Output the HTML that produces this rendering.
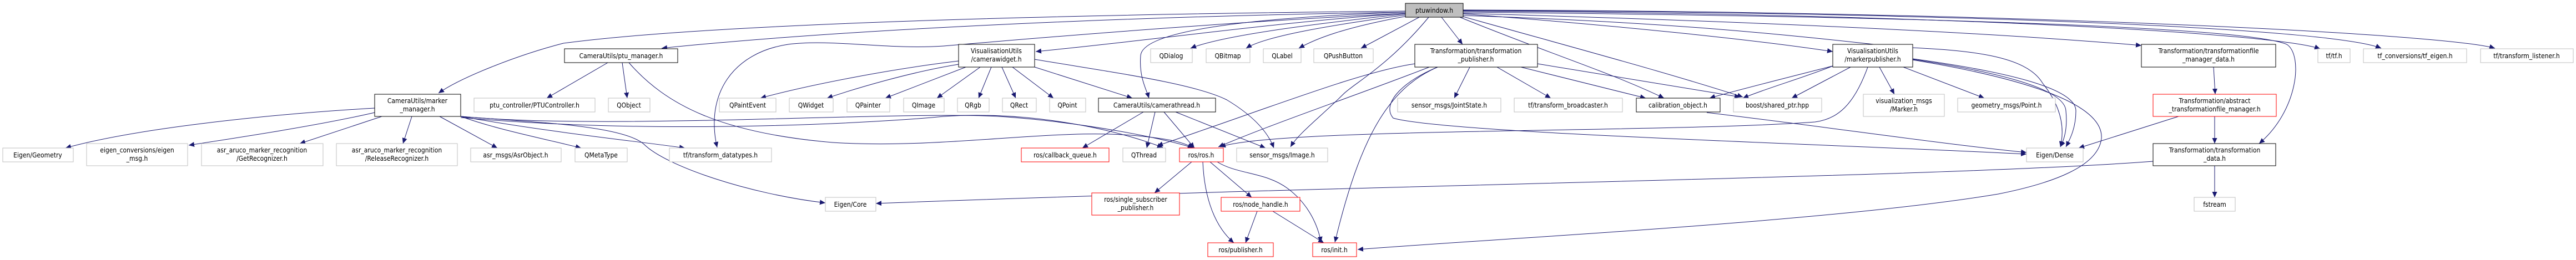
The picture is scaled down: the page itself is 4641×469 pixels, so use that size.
<!DOCTYPE html>
<html><head><meta charset="utf-8"><style>
html,body{margin:0;padding:0;background:#fff;width:4641px;height:469px;overflow:hidden}
svg text{font-family:"DejaVu Sans Condensed","DejaVu Sans","Liberation Sans",sans-serif;font-stretch:condensed;font-size:12px;fill:#000}
</style></head><body>
<svg width="4641" height="469" viewBox="0 0 4641 469" xmlns="http://www.w3.org/2000/svg">
<defs><marker id="a" markerUnits="userSpaceOnUse" markerWidth="11" markerHeight="9" refX="10" refY="4.5" orient="auto"><path d="M0,0 L10,4.5 L0,9 z" fill="#191970"/></marker></defs>
<g fill="none" stroke="#191970" stroke-width="1" marker-end="url(#a)">
<path d="M2532,20 C2000,25 1300,40 1015,78 C930,100 830,140 790,168"/>
<path d="M2532,22 C2000,30 1500,55 1192,87"/>
<path d="M2532,24 C2300,40 2100,70 1866,93"/>
<path d="M2532,22 C2300,30 2060,50 2055,100 C2052,140 2065,160 2070,177"/>
<path d="M2532,25 C2350,45 2200,65 2145,87"/>
<path d="M2532,27 C2400,45 2280,65 2245,87"/>
<path d="M2535,29 C2420,50 2370,70 2340,87"/>
<path d="M2557,31 L2452,87"/>
<path d="M2597,31 L2635,80"/>
<path d="M2532,24 C2200,40 1850,70 1700,83 C1600,90 1500,70 1420,80 C1320,95 1270,170 1292,266"/>
<path d="M2574,31 C2500,120 2440,150 2420,170 C2380,210 2340,240 2325,265"/>
<path d="M2636,25 C2900,45 3150,70 3302,93"/>
<path d="M2630,31 C2800,100 2900,130 2998,177"/>
<path d="M2636,30 C2850,90 3000,130 3140,175"/>
<path d="M2636,28 C3000,40 3200,60 3420,85 C3550,90 3650,100 3680,150 C3720,200 3718,240 3712,265"/>
<path d="M2636,24 C3200,40 3600,60 3858,82"/>
<path d="M2636,22 C3500,30 4050,50 4120,80 C4150,100 4140,200 4070,259"/>
<path d="M2636,20 C3500,25 4100,60 4180,88"/>
<path d="M2636,19 C3500,22 4200,50 4290,87"/>
<path d="M2636,18 C3600,20 4400,60 4495,87"/>
<path d="M1095,113 L985,177"/>
<path d="M1121,113 L1130,177"/>
<path d="M1133,113 C1200,190 1300,240 1500,257 C1700,270 1900,230 2050,245 C2100,250 2130,255 2150,267"/>
<path d="M675,195 C500,205 250,230 118,267"/>
<path d="M675,203 C580,225 450,245 340,262"/>
<path d="M688,210 L540,259"/>
<path d="M742,210 L726,259"/>
<path d="M792,210 L896,267"/>
<path d="M830,210 C900,235 980,250 1047,267"/>
<path d="M830,210 C1000,240 1150,255 1234,267"/>
<path d="M830,210 C950,220 1120,225 1160,260 C1200,300 1350,350 1487,366"/>
<path d="M830,212 C1200,245 1600,220 1700,210 C1850,200 2000,230 2095,266"/>
<path d="M830,210 C1100,235 1600,200 1800,210 C1950,220 2100,250 2150,267"/>
<path d="M1727,110 C1600,125 1450,155 1370,177"/>
<path d="M1727,116 C1640,130 1540,160 1490,177"/>
<path d="M1740,121 L1595,177"/>
<path d="M1766,121 L1688,177"/>
<path d="M1786,121 L1763,177"/>
<path d="M1805,121 L1830,177"/>
<path d="M1824,121 L1898,177"/>
<path d="M1864,121 L2040,177"/>
<path d="M1864,107 C2000,130 2150,150 2210,180 C2260,210 2285,240 2295,267"/>
<path d="M2060,202 L1950,267"/>
<path d="M2081,202 L2066,267"/>
<path d="M2097,202 L2152,267"/>
<path d="M2118,202 L2280,267"/>
<path d="M2549,115 C2450,130 2300,190 2085,263"/>
<path d="M2575,121 C2450,170 2300,220 2195,265"/>
<path d="M2590,121 C2500,160 2450,250 2405,437"/>
<path d="M2590,121 C2520,150 2490,190 2510,213 C2600,240 3300,260 3651,278"/>
<path d="M2648,121 L2620,177"/>
<path d="M2697,121 L2794,177"/>
<path d="M2740,121 L2965,177"/>
<path d="M2770,115 L3135,175"/>
<path d="M3302,119 C3250,140 3180,160 3140,177"/>
<path d="M3302,119 C3200,145 3120,165 3080,177"/>
<path d="M3334,121 L3228,177"/>
<path d="M3365,121 C3340,190 3310,215 3270,220 C3000,240 2300,230 2198,265"/>
<path d="M3386,121 L3413,170"/>
<path d="M3429,121 L3575,177"/>
<path d="M3446,107 C3600,130 3720,160 3722,200 C3725,230 3720,250 3712,265"/>
<path d="M3446,106 C3620,130 3740,160 3740,200 C3740,230 3730,250 3722,265"/>
<path d="M3446,108 C3700,150 3790,200 3786,250 C3780,300 3700,330 3600,350 C3300,400 2700,430 2446,450"/>
<path d="M3075,203 C3300,230 3500,260 3651,275"/>
<path d="M3988,121 L3991,170"/>
<path d="M3990,210 L3990,259"/>
<path d="M3925,210 L3745,267"/>
<path d="M3990,299 L3990,356"/>
<path d="M3879,291 C3500,320 2500,332 1578,367"/>
<path d="M2147,292 L2080,348"/>
<path d="M2180,292 L2255,356"/>
<path d="M2167,292 C2170,360 2190,410 2223,438"/>
<path d="M2193,292 C2230,315 2280,310 2320,340 C2360,370 2375,410 2380,437"/>
<path d="M2265,381 L2244,438"/>
<path d="M2293,381 L2385,438"/>
</g>
<g stroke-width="1">
<g fill="#fff" stroke="#bfbfbf">
<rect x="5" y="267" width="127" height="25"/><rect x="156" y="259" width="182" height="40"/><rect x="363" y="259" width="219" height="40"/><rect x="606" y="259" width="218" height="40"/>
<rect x="854" y="177" width="218" height="25"/><rect x="1096" y="177" width="75" height="25"/>
<rect x="1296" y="177" width="102" height="25"/><rect x="1422" y="177" width="79" height="25"/><rect x="1526" y="177" width="77" height="25"/>
<rect x="848" y="267" width="163" height="25"/><rect x="1036" y="267" width="94" height="25"/><rect x="1206" y="267" width="184" height="25"/><rect x="1487" y="356" width="91" height="25"/>
<rect x="1628" y="177" width="73" height="25"/><rect x="1725" y="177" width="57" height="25"/><rect x="1806" y="177" width="61" height="25"/><rect x="1891" y="177" width="65" height="25"/>
<rect x="2073" y="88" width="75" height="25"/><rect x="2173" y="88" width="79" height="25"/><rect x="2276" y="88" width="68" height="25"/><rect x="2367" y="88" width="107" height="25"/>
<rect x="2023" y="267" width="77" height="25"/><rect x="2228" y="267" width="164" height="25"/>
<rect x="2518" y="177" width="186" height="25"/><rect x="2728" y="177" width="195" height="25"/><rect x="3123" y="177" width="159" height="25"/>
<rect x="3357" y="170" width="146" height="40"/><rect x="3527" y="177" width="176" height="25"/><rect x="3651" y="267" width="102" height="25"/>
<rect x="3953" y="356" width="74" height="25"/><rect x="4176" y="88" width="58" height="25"/><rect x="4258" y="88" width="186" height="25"/><rect x="4469" y="88" width="167" height="25"/>
</g>
<g fill="#fff" stroke="#000">
<rect x="675" y="170" width="155" height="40"/><rect x="1017" y="88" width="204" height="25"/><rect x="1727" y="80" width="137" height="41"/><rect x="1979" y="177" width="211" height="25"/>
<rect x="2549" y="80" width="221" height="41"/><rect x="2948" y="177" width="151" height="25"/><rect x="3302" y="80" width="144" height="41"/>
<rect x="3858" y="80" width="242" height="41"/><rect x="3879" y="259" width="221" height="40"/>
</g>
<g fill="#fff" stroke="#ff0000">
<rect x="1840" y="267" width="158" height="25"/><rect x="2125" y="267" width="79" height="25"/><rect x="1967" y="348" width="158" height="40"/><rect x="2200" y="356" width="142" height="25"/><rect x="2176" y="438" width="118" height="25"/><rect x="2365" y="438" width="79" height="25"/><rect x="3879" y="170" width="222" height="40"/>
</g>
<rect x="2532" y="6" width="104" height="25" fill="#bfbfbf" stroke="#000"/>
</g>
<g text-anchor="middle">
<text x="2584" y="23">ptuwindow.h</text>
<text x="68" y="284">Eigen/Geometry</text>
<text x="247" y="275">eigen_conversions/eigen</text><text x="247" y="290">_msg.h</text>
<text x="472" y="275">asr_aruco_marker_recognition</text><text x="472" y="290">/GetRecognizer.h</text>
<text x="715" y="275">asr_aruco_marker_recognition</text><text x="715" y="290">/ReleaseRecognizer.h</text>
<text x="752" y="186">CameraUtils/marker</text><text x="752" y="201">_manager.h</text>
<text x="1119" y="105">CameraUtils/ptu_manager.h</text>
<text x="963" y="194">ptu_controller/PTUController.h</text>
<text x="1133" y="194">QObject</text>
<text x="1347" y="194">QPaintEvent</text><text x="1461" y="194">QWidget</text><text x="1564" y="194">QPainter</text>
<text x="929" y="284">asr_msgs/AsrObject.h</text><text x="1083" y="284">QMetaType</text><text x="1298" y="284">tf/transform_datatypes.h</text>
<text x="1532" y="373">Eigen/Core</text>
<text x="1795" y="96">VisualisationUtils</text><text x="1795" y="111">/camerawidget.h</text>
<text x="1664" y="194">QImage</text><text x="1753" y="194">QRgb</text><text x="1836" y="194">QRect</text><text x="1923" y="194">QPoint</text>
<text x="2084" y="194">CameraUtils/camerathread.h</text>
<text x="2110" y="105">QDialog</text><text x="2212" y="105">QBitmap</text><text x="2310" y="105">QLabel</text><text x="2420" y="105">QPushButton</text>
<text x="1919" y="284">ros/callback_queue.h</text><text x="2061" y="284">QThread</text><text x="2164" y="284">ros/ros.h</text><text x="2310" y="284">sensor_msgs/Image.h</text>
<text x="2046" y="364">ros/single_subscriber</text><text x="2046" y="379">_publisher.h</text>
<text x="2271" y="373">ros/node_handle.h</text><text x="2235" y="455">ros/publisher.h</text><text x="2404" y="455">ros/init.h</text>
<text x="2659" y="96">Transformation/transformation</text><text x="2659" y="111">_publisher.h</text>
<text x="2611" y="194">sensor_msgs/JointState.h</text><text x="2825" y="194">tf/transform_broadcaster.h</text>
<text x="3023" y="194">calibration_object.h</text><text x="3202" y="194">boost/shared_ptr.hpp</text>
<text x="3374" y="96">VisualisationUtils</text><text x="3374" y="111">/markerpublisher.h</text>
<text x="3430" y="186">visualization_msgs</text><text x="3430" y="201">/Marker.h</text>
<text x="3615" y="194">geometry_msgs/Point.h</text><text x="3702" y="284">Eigen/Dense</text>
<text x="3979" y="96">Transformation/transformationfile</text><text x="3979" y="111">_manager_data.h</text>
<text x="3990" y="186">Transformation/abstract</text><text x="3990" y="201">_transformationfile_manager.h</text>
<text x="3990" y="275">Transformation/transformation</text><text x="3990" y="290">_data.h</text>
<text x="3990" y="373">fstream</text><text x="4205" y="105">tf/tf.h</text><text x="4351" y="105">tf_conversions/tf_eigen.h</text><text x="4552" y="105">tf/transform_listener.h</text>
</g>
</svg>
</body></html>
